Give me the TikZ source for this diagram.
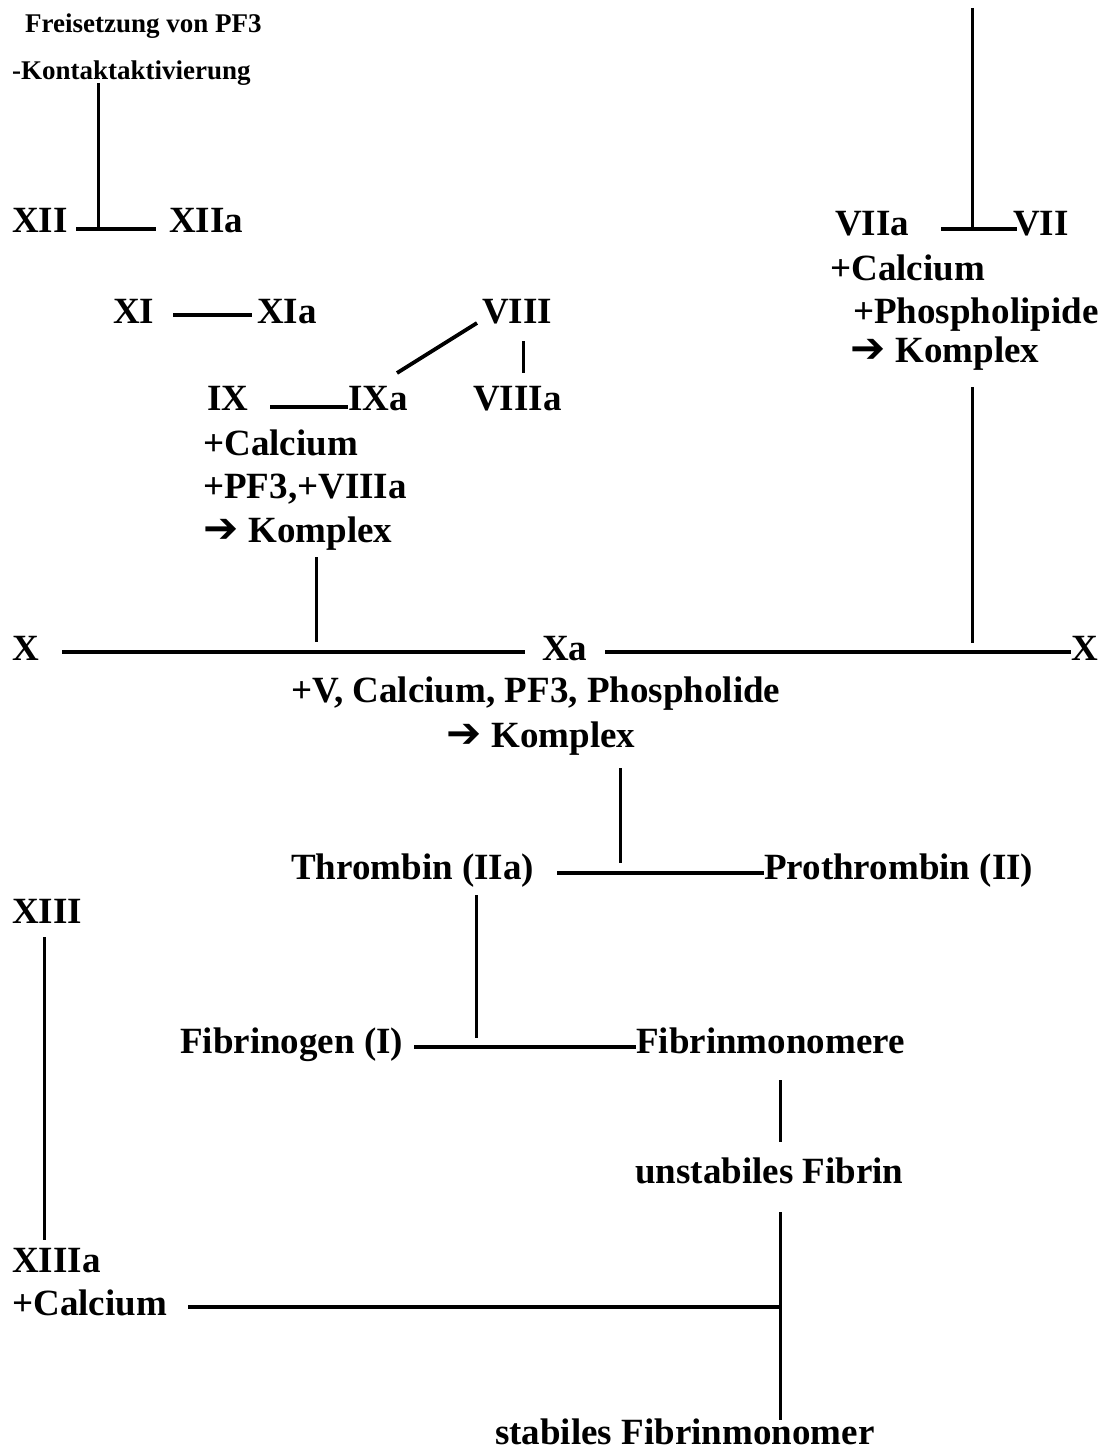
\documentclass[tikz,border=0pt]{standalone}
\usepackage{fontspec}
\setmainfont{Liberation Serif}[BoldFont={Liberation Serif Bold}]
\newfontfamily\tbfont{Liberation Serif Bold}
\newfontfamily\dvfont{DejaVu Sans Bold}
\newcommand{\komparrow}{{\dvfont\fontsize{42}{40}\selectfont ➔}\hspace{10pt}}
\begin{document}
\begin{tikzpicture}[x=1pt,y=-1pt,
  lbl/.style={anchor=base west,inner sep=0pt,font=\tbfont\fontsize{37}{40}\selectfont},
  smalllbl/.style={anchor=base west,inner sep=0pt,font=\tbfont\fontsize{27}{30}\selectfont},
  hline/.style={line width=3.8pt},
  vline/.style={line width=3pt}]
\useasboundingbox[fill=white] (0,0) rectangle (1100,1450);

% texts
\node[smalllbl] (fre) at (25,33) {Freisetzung von PF3};
\node[smalllbl] (kon) at (12,80) {-Kontaktaktivierung};
\node[lbl] (xii) at (12,233) {XII};
\node[lbl] (xiia) at (169,233) {XIIa};
\node[lbl] (viia) at (835,235) {VIIa};
\node[lbl] (vii) at (1013,235) {VII};
\node[lbl] (vii1) at (830,280) {+Calcium};
\node[lbl] (vii2) at (853,323) {+Phospholipide};
\node[lbl] (vii3) at (850,362) {\komparrow Komplex};
\node[lbl] (xi) at (113,323) {XI};
\node[lbl] (xia) at (257,323) {XIa};
\node[lbl] (viii) at (482,323) {VIII};
\node[lbl] (viiia) at (473,410) {VIIIa};
\node[lbl] (ix) at (207,410) {IX};
\node[lbl] (ixa) at (348,410) {IXa};
\node[lbl] (ix1) at (203,455) {+Calcium};
\node[lbl] (ix2) at (203,498) {+PF3,+VIIIa};
\node[lbl] (ix3) at (203,542) {\komparrow Komplex};
\node[lbl] (xl) at (12,660) {X};
\node[lbl] (xa) at (542,660) {Xa};
\node[lbl] (xr) at (1071,660) {X};
\node[lbl] (xa1) at (291,702) {+V, Calcium, PF3, Phospholide};
\node[lbl] (xa2) at (446,747) {\komparrow Komplex};
\node[lbl] (thr) at (291,879) {Thrombin (IIa)};
\node[lbl] (pro) at (764,879) {Prothrombin (II)};
\node[lbl] (xiii) at (12,923) {XIII};
\node[lbl] (fib) at (180,1053) {Fibrinogen (I)};
\node[lbl] (fm) at (636,1053) {Fibrinmonomere};
\node[lbl] (unst) at (635,1183) {unstabiles Fibrin};
\node[lbl] (xiiia) at (12,1272) {XIIIa};
\node[lbl] (calc) at (12,1315) {+Calcium};
\node[lbl] (stab) at (495,1444) {stabiles Fibrinmonomer};

% connector end points
\coordinate (a1) at (98,83);   \coordinate (a2) at (98,229);
\coordinate (b1) at (76,229);  \coordinate (b2) at (156,229);
\coordinate (c1) at (972,8);   \coordinate (c2) at (972,229);
\coordinate (d1) at (941,229); \coordinate (d2) at (1017,229);
\coordinate (e1) at (173,315); \coordinate (e2) at (252,315);
\coordinate (f1) at (397,373); \coordinate (f2) at (477,323);
\coordinate (g1) at (523,341); \coordinate (g2) at (523,373);
\coordinate (h1) at (270,407); \coordinate (h2) at (348,407);
\coordinate (i1) at (316,557); \coordinate (i2) at (316,642);
\coordinate (j1) at (972,387); \coordinate (j2) at (972,643);
\coordinate (k1) at (62,652);  \coordinate (k2) at (525,652);
\coordinate (l1) at (605,652); \coordinate (l2) at (1071,652);
\coordinate (m1) at (620,768); \coordinate (m2) at (620,863);
\coordinate (n1) at (557,873); \coordinate (n2) at (764,873);
\coordinate (o1) at (476,895); \coordinate (o2) at (476,1038);
\coordinate (p1) at (414,1047);\coordinate (p2) at (636,1047);
\coordinate (q1) at (44,937);  \coordinate (q2) at (44,1240);
\coordinate (r1) at (780,1080);\coordinate (r2) at (780,1142);
\coordinate (s1) at (780,1212);\coordinate (s2) at (780,1420);
\coordinate (t1) at (188,1307);\coordinate (t2) at (780,1307);

\draw[vline] (a1) -- (a2);
\draw[hline] (b1) -- (b2);
\draw[vline] (c1) -- (c2);
\draw[hline] (d1) -- (d2);
\draw[hline] (e1) -- (e2);
\draw[hline] (f1) -- (f2);
\draw[vline] (g1) -- (g2);
\draw[hline] (h1) -- (h2);
\draw[vline] (i1) -- (i2);
\draw[vline] (j1) -- (j2);
\draw[hline] (k1) -- (k2);
\draw[hline] (l1) -- (l2);
\draw[vline] (m1) -- (m2);
\draw[hline] (n1) -- (n2);
\draw[vline] (o1) -- (o2);
\draw[hline] (p1) -- (p2);
\draw[vline] (q1) -- (q2);
\draw[vline] (r1) -- (r2);
\draw[vline] (s1) -- (s2);
\draw[hline] (t1) -- (t2);
\end{tikzpicture}
\end{document}
